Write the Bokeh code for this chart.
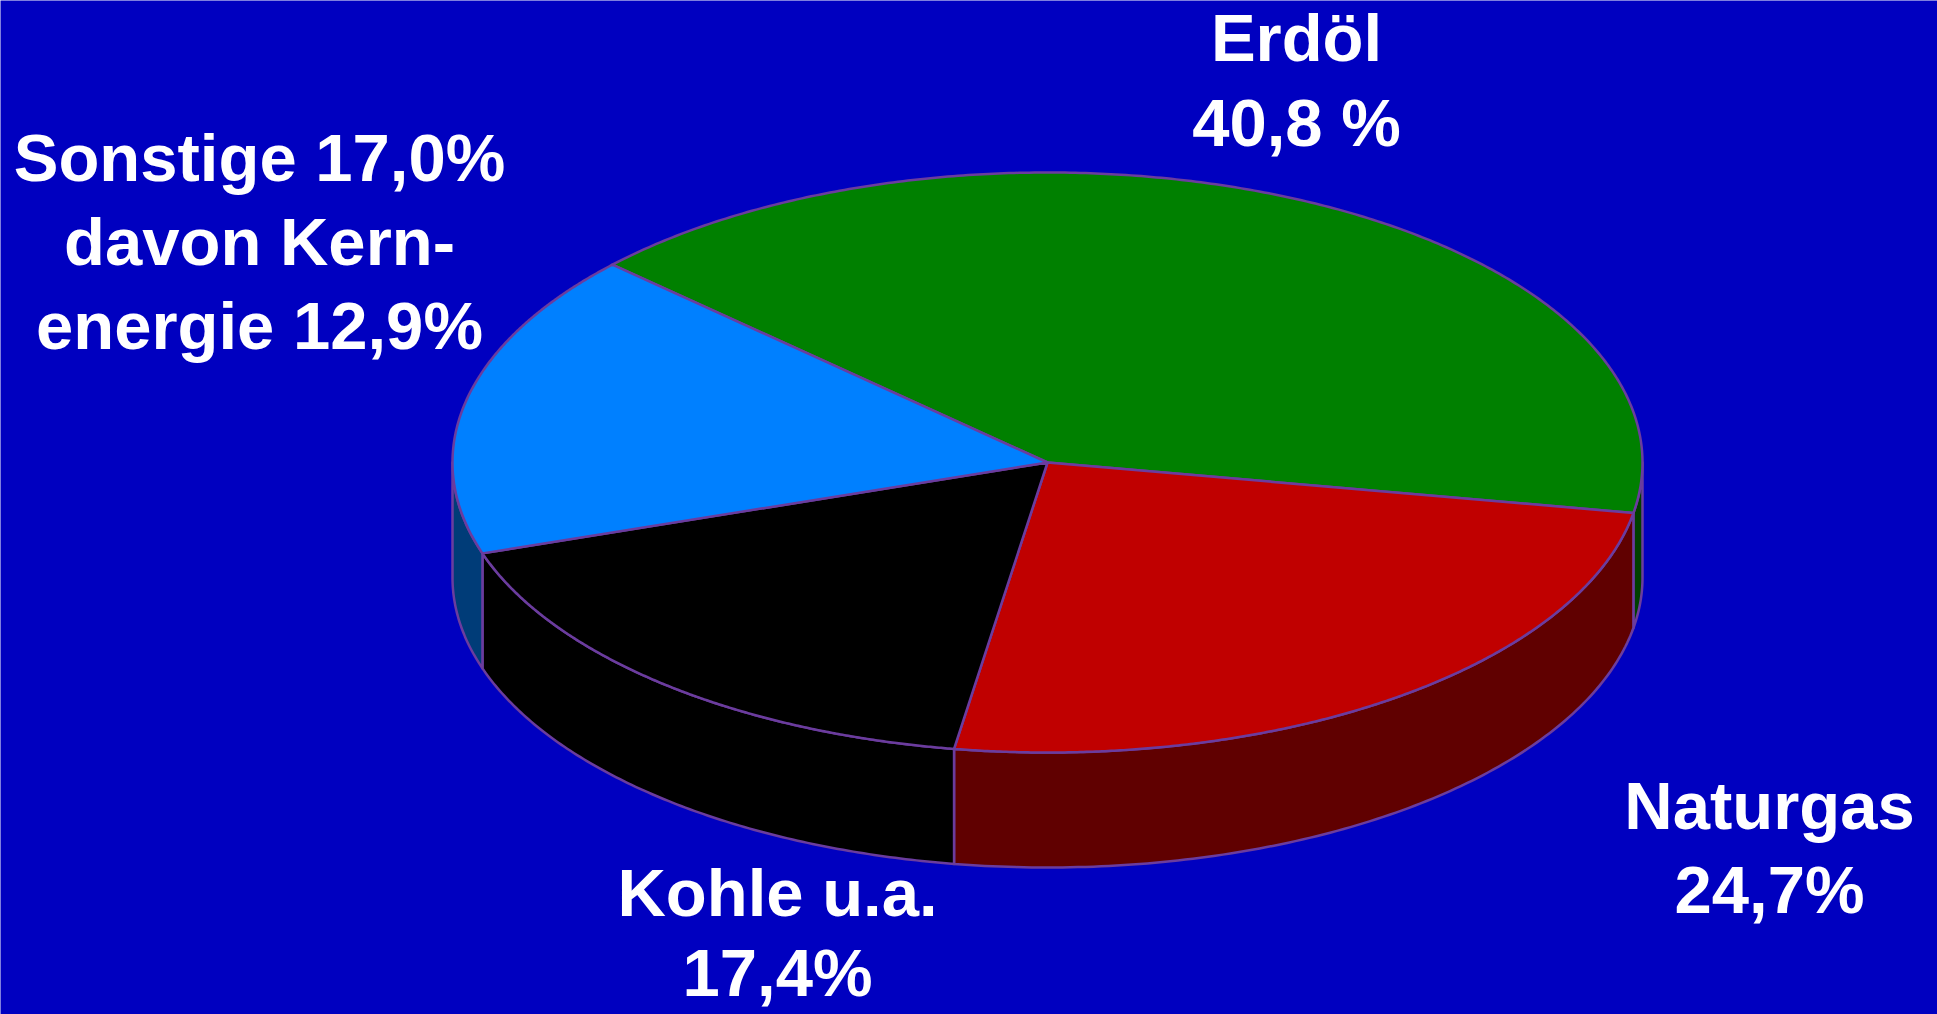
import numpy as np
from bokeh.plotting import figure
from bokeh.models import Range1d, ColumnDataSource
from bokeh.core.properties import value
from bokeh.embed import file_html
from bokeh.resources import INLINE

# ---- data ----
categories = ["Erdöl", "Naturgas", "Kohle u.a.", "Sonstige"]
shares = [40.8, 24.7, 17.4, 17.0]
top_colors = ["#008000", "#C00000", "#000000", "#0080FF"]
side_colors = ["#004000", "#600000", "#000000", "#003C78"]

label_lines = [
    ["Erdöl", "40,8 %"],
    ["Naturgas", "24,7%"],
    ["Kohle u.a.", "17,4%"],
    ["Sonstige 17,0%", "davon Kern-", "energie 12,9%"],
]

# ---- layout (reference pixel coordinates) ----
BG = "#0000C0"
OUTLINE = "#6B3C9E"
W, H = 1937, 1014
cx, cy = 1047.0, 462.0
rx, ry = 595.0, 290.0
depth = 115.0
start_angle = 137.0  # degrees, slices run clockwise
label_anchor = [(1296, 37), (1769, 805), (777, 892), (259, 157)]  # cap-centre of first line
line_steps = [85, 84, 80, 84]
font_px = "67px"

p = figure(width=W, height=H, output_backend="svg", toolbar_location=None,
           x_range=Range1d(0, W), y_range=Range1d(H, 0),
           min_border=0, background_fill_color=BG, border_fill_color=BG)
p.axis.visible = False
p.grid.visible = False
p.outline_line_color = None


def ex(t):
    return cx + rx * np.cos(np.radians(t))


def ey(t):
    return cy - ry * np.sin(np.radians(t))


total = sum(shares)
bounds = []
a = start_angle
for s in shares:
    span = 360.0 * s / total
    bounds.append((a - span, a))  # (lo, hi)
    a -= span

# side faces (front half of the cylinder: angles in [-180, 0] mod 360)
side_xs, side_ys, side_cols = [], [], []
for (lo, hi), col in zip(bounds, side_colors):
    for k in (-1, 0, 1):
        f_lo, f_hi = -180 + 360 * k, 0 + 360 * k
        a0, a1 = max(lo, f_lo), min(hi, f_hi)
        if a1 - a0 > 1e-6:
            t = np.linspace(a0, a1, 120)
            xs = np.concatenate([ex(t), ex(t[::-1])])
            ys = np.concatenate([ey(t), ey(t[::-1]) + depth])
            side_xs.append(list(xs))
            side_ys.append(list(ys))
            side_cols.append(col)

p.patches(xs="xs", ys="ys", fill_color="c", line_color=OUTLINE, line_width=2.5,
          line_join="round",
          source=ColumnDataSource(dict(xs=side_xs, ys=side_ys, c=side_cols)))

# top faces
top_xs, top_ys = [], []
for (lo, hi) in bounds:
    t = np.linspace(hi, lo, 300)
    top_xs.append([cx] + list(ex(t)))
    top_ys.append([cy] + list(ey(t)))

p.patches(xs="xs", ys="ys", fill_color="c", line_color=OUTLINE, line_width=2.5,
          line_join="round",
          source=ColumnDataSource(dict(xs=top_xs, ys=top_ys, c=top_colors)))

# labels
tx, ty, tt = [], [], []
for (ax, ay), lines, step in zip(label_anchor, label_lines, line_steps):
    for i, ln in enumerate(lines):
        tx.append(ax)
        ty.append(ay + i * step)
        tt.append(ln)

p.text(x="x", y="y", text="t", source=ColumnDataSource(dict(x=tx, y=ty, t=tt)),
       text_font=value("Liberation Sans"), text_font_style="bold",
       text_font_size=font_px, text_color="white", text_align="center",
       text_baseline="middle")

open("out.html", "w").write(file_html(p, INLINE))
